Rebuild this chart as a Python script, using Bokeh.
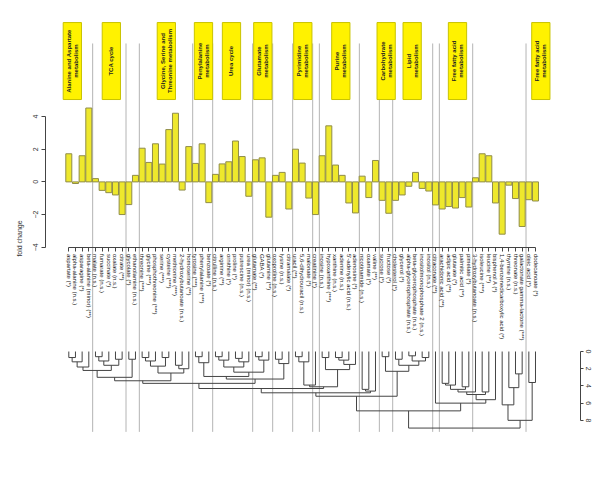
import math
from bokeh.plotting import figure
from bokeh.models import Range1d, LinearAxis, FixedTicker
from bokeh.core.properties import value
from bokeh.embed import file_html
from bokeh.resources import INLINE

# ---------------- data ----------------
metabolites = [
    "aspartate (*)", "alpha-alanine (n.s.)", "asparagine (*)", "beta-alanine (minor) (**)",
    "malate (n.s.)", "fumarate (n.s.)", "succinate (*)", "oxalate (n.s.)", "citrate (**)",
    "glycolate (*)", "ethanolamine (n.s.)",
    "threonine (***)", "glycine (***)", "phosphothreonine (***)", "serine (***)",
    "cysteine (***)", "methionine (***)", "2-hydroxybutanoate (n.s.)", "homoserine (**)",
    "tyrosine (***)", "phenylalanine (***)", "benzoate (*)",
    "citrulline (n.s.)", "arginine (**)", "ornithine (*)", "proline (*)", "putrescine (n.s.)",
    "urea (minor) (n.s.)",
    "glutamate (**)", "GABA (*)", "glutamine (**)",
    "oxoproline (n.s.)", "lysine (n.s.)", "citramalate (*)",
    "uracil (**)", "5,6-dihydrouracil (n.s.)", "malonate (*)",
    "creatinine (*)",
    "inosine (n.s.)", "hypoxanthine (***)", "xanthine (n.s.)", "adenine (n.s.)",
    "5'-adenylic acid (n.s.)", "adenosine (*)",
    "nicotinamide (n.s.)", "oxamate (*)", "valine (**)",
    "sucrose (*)", "fructose (*)",
    "cholesterol (*)", "glycerol (*)", "alpha-glycerophosphate (n.s.)",
    "beta-glycerophosphate (n.s.)", "inositolmonophosphate 2 (n.s.)", "inositol (n.s.)",
    "citraconate (**)",
    "arachidonic acid (**)", "adipic acid (**)", "glutarate (*)", "palmitic acid (**)",
    "pimelate (*)",
    "3-hydroxybutanoate (n.s.)", "isoleucine (***)", "leucine (**)", "bisphenol A (*)",
    "1,4-benzenedicarboxylic acid (*)", "thymine (n.s.)", "threonate (n.s.)",
    "galactonate gamma-lactone (***)",
    "oleic acid (*)", "dodecanoate (*)",
]

fold_change = [
    1.72, -0.10, 1.60, 4.52,
    0.20, -0.52, -0.66, -0.80, -2.00,
    -1.39, 0.40,
    2.06, 1.19, 2.33, 1.09, 3.20, 4.20, -0.50, 2.16,
    1.13, 2.33, -1.27,
    0.46, 1.10, 1.23, 2.50, 1.55, -0.88,
    1.35, 1.47, -2.16,
    0.40, 0.58, -1.66,
    2.00, 1.15, -0.99,
    -2.00,
    1.60, 3.43, 1.03, 0.40, -1.29, -1.90,
    0.35, -0.96, 1.31,
    -1.13, -1.92,
    -1.13, -0.80, -0.27, 0.58, -0.40, -0.56,
    -1.41,
    -1.66, -1.51, -1.60, -0.96, -1.54,
    0.25, 1.72, 1.60, -1.29, -3.20, -0.20, -1.02, -2.73,
    -1.09, -1.17,
]

# first bar index of each block separated by a vertical grey line
group_starts = [4, 9, 11, 19, 22, 28, 31, 34, 37, 38, 44, 47, 49, 55, 56, 61, 69]

pathway_names = [
    "Alanine and Aspartate\nmetabolism", "TCA cycle",
    "Glycine, Serine and\nThreonine metabolism", "Penylalanine\nmetabolism",
    "Urea cycle", "Glutamate\nmetabolism", "Pyrimidine\nmetabolism",
    "Purine\nmetabolism", "Carbohydrate\nmetabolism", "Lipid\nmetabolism",
    "Free fatty acid\nmetabolism", "Free fatty acid\nmetabolism",
]
pathway_pos = [0.53, 6.38, 14.63, 20.2, 24.4, 29.1, 35.1, 40.8, 47.6, 51.5, 58.3, 70.8]

# dendrogram merges: leaves lo..mid-1 joined with leaves mid..hi at height h
merge_lo = [0, 0, 0, 4, 4, 7, 4, 0, 9, 0,
            11, 11, 14, 11, 16, 16, 11, 0,
            19, 19, 22, 22, 25, 25, 22, 28, 28, 22, 19, 31, 31, 19, 0,
            34, 34, 38, 40, 40, 40, 38, 34, 34, 0, 44, 44, 0,
            47, 49, 51, 53, 51, 49, 47, 0,
            56, 56, 59, 56, 56, 62, 56, 56, 55, 0,
            67, 66, 65, 69, 65, 0]
merge_mid = [1, 2, 3, 5, 6, 8, 7, 4, 10, 9,
             12, 13, 15, 14, 17, 18, 16, 11,
             20, 21, 23, 24, 26, 27, 25, 29, 30, 28, 22, 32, 33, 31, 19,
             35, 36, 39, 41, 42, 43, 40, 37, 38, 34, 45, 46, 44,
             48, 50, 52, 54, 53, 51, 49, 47,
             57, 58, 60, 59, 61, 63, 62, 64, 56, 55,
             68, 67, 66, 70, 69, 65]
merge_hi = [1, 2, 3, 5, 6, 8, 8, 8, 10, 10,
            12, 13, 15, 15, 17, 18, 18, 18,
            20, 21, 23, 24, 26, 27, 27, 29, 30, 30, 30, 32, 33, 33, 33,
            35, 36, 39, 41, 42, 43, 43, 37, 43, 43, 45, 46, 46,
            48, 50, 52, 54, 54, 54, 54, 54,
            57, 58, 60, 60, 61, 63, 63, 64, 64, 64,
            68, 68, 68, 70, 70, 70]
merge_h = [0.7, 1.2, 1.8, 0.6, 1.1, 0.9, 1.6, 2.2, 0.9, 3.0,
           0.7, 1.1, 0.7, 1.7, 1.6, 2.0, 2.5, 3.4,
           0.6, 1.3, 0.6, 1.0, 0.8, 1.2, 1.8, 0.6, 1.0, 2.4, 2.9, 0.9, 1.4, 3.2, 3.7,
           0.6, 1.2, 0.7, 0.7, 1.0, 1.5, 2.1, 3.9, 4.1, 4.3, 4.4, 4.6, 4.8,
           0.6, 0.9, 0.5, 0.7, 1.1, 1.6, 2.3, 5.2,
           3.7, 3.9, 4.1, 4.4, 4.7, 4.7, 5.0, 5.6, 6.0, 6.9,
           2.6, 4.2, 6.2, 3.6, 8.0, 8.9]

# ---------------- figure ----------------
n = len(metabolites)
idx = list(range(n))
FONT = "Liberation Sans"

p = figure(width=596, height=476, output_backend="svg", toolbar_location=None,
           x_range=Range1d(-3.495, 76.75), y_range=Range1d(-18.03, 11.10),
           min_border_left=45, min_border_right=16, min_border_top=0, min_border_bottom=0,
           x_axis_location=None, y_axis_location=None)
p.xgrid.visible = False
p.ygrid.visible = False
p.outline_line_color = None
p.background_fill_color = "white"
p.border_fill_color = "white"
p.extra_y_ranges = {"dend": Range1d(start=14.53, end=-40.81)}

# vertical separators
sep_x = [g - 0.42 for g in group_starts]
p.segment(x0=sep_x, x1=sep_x, y0=[8.47] * len(sep_x), y1=[-15.3] * len(sep_x),
          line_color="#b4b4b4", line_width=1)

# pathway boxes
p.quad(left=[c - 1.37 for c in pathway_pos], right=[c + 1.37 for c in pathway_pos],
       top=[9.75] * len(pathway_pos), bottom=[5.04] * len(pathway_pos),
       fill_color="#fff200", line_color="#c9c300", line_width=1)
p.text(x=pathway_pos, y=[7.395] * len(pathway_pos), text=pathway_names,
       angle=math.pi / 2, text_align="center", text_baseline="middle",
       text_font=value(FONT), text_font_size="6px", text_font_style="bold",
       text_color="#222222", text_line_height=1.15)

# bars
p.vbar(x=idx, top=fold_change, bottom=0, width=0.9,
       fill_color="#eee82c", line_color="#8f8c4a", line_width=1)

# left axis
yax = LinearAxis(bounds=(-4, 4), ticker=FixedTicker(ticks=[-4, -2, 0, 2, 4]),
                 axis_label="fold change")
yax.major_label_orientation = "vertical"
yax.major_label_text_font = FONT
yax.major_label_text_font_size = "7px"
yax.major_label_text_color = "#333333"
yax.axis_label_text_font = FONT
yax.axis_label_text_font_size = "7px"
yax.axis_label_text_font_style = "normal"
yax.axis_label_text_color = "#333333"
yax.axis_label_standoff = 8
yax.major_tick_out = 4
yax.major_tick_in = 0
yax.minor_tick_out = 0
yax.minor_tick_in = 0
yax.major_label_standoff = 3
yax.axis_line_color = "#444444"
yax.major_tick_line_color = "#444444"
p.add_layout(yax, "left")

# bottom metabolite axis inside the frame
xax = LinearAxis(bounds=(0, n - 1), ticker=FixedTicker(ticks=idx),
                 major_label_overrides={i: m for i, m in enumerate(metabolites)},
                 fixed_location=-4.04)
xax.major_label_orientation = "vertical"
xax.major_label_text_font = FONT
xax.major_label_text_font_size = "6px"
xax.major_label_text_color = "#222222"
xax.major_tick_out = 4
xax.major_tick_in = 0
xax.minor_tick_out = 0
xax.minor_tick_in = 0
xax.major_label_standoff = 2
xax.axis_line_color = "#444444"
xax.major_tick_line_color = "#444444"
p.add_layout(xax, "below")

# dendrogram
nodes = {(i, i): (float(i), 0.0) for i in idx}
dx0, dx1, dy0, dy1 = [], [], [], []
for lo, mid, hi, h in zip(merge_lo, merge_mid, merge_hi, merge_h):
    lx, lh = nodes.get((lo, mid - 1), ((lo + mid - 1) / 2, 0.0))
    rx, rh = nodes.get((mid, hi), ((mid + hi) / 2, 0.0))
    dx0 += [lx, rx, lx]
    dx1 += [lx, rx, rx]
    dy0 += [lh, rh, h]
    dy1 += [h, h, h]
    nodes[(lo, hi)] = ((lx + rx) / 2, h)
p.segment(x0=dx0, x1=dx1, y0=dy0, y1=dy1, y_range_name="dend",
          line_color="#444444", line_width=1)

dax = LinearAxis(y_range_name="dend", bounds=(0, 8),
                 ticker=FixedTicker(ticks=[0, 2, 4, 6, 8]))
dax.major_label_orientation = "vertical"
dax.major_label_text_font = FONT
dax.major_label_text_font_size = "7px"
dax.major_label_text_color = "#333333"
dax.major_tick_out = 3
dax.major_tick_in = 0
dax.minor_tick_out = 0
dax.minor_tick_in = 0
dax.major_label_standoff = 2
dax.axis_line_color = "#444444"
dax.major_tick_line_color = "#444444"
p.add_layout(dax, "right")

open("out.html", "w").write(file_html(p, INLINE))
